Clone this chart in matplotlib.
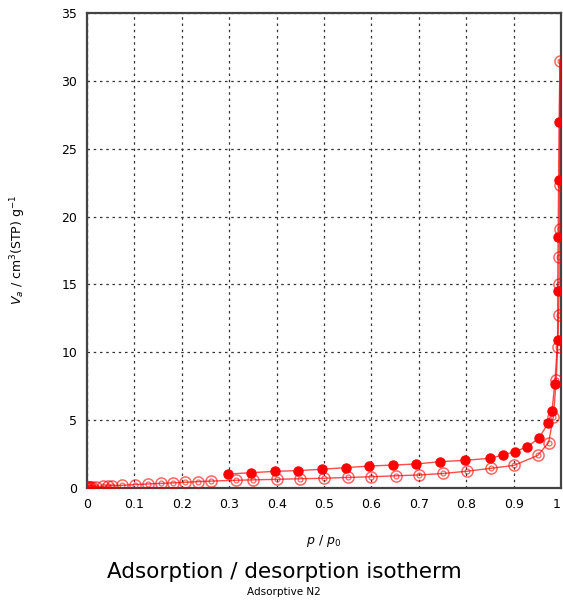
import matplotlib
matplotlib.use("Agg")
import matplotlib.pyplot as plt
import numpy as np

# adsorption branch (open double circles)
p_ads = [0.0002, 0.0008, 0.002, 0.004, 0.007, 0.010, 0.020, 0.034, 0.044, 0.052,
         0.073, 0.101, 0.129, 0.156, 0.181, 0.207, 0.235, 0.261, 0.314, 0.351,
         0.400, 0.449, 0.500, 0.551, 0.600, 0.651, 0.700, 0.752, 0.802, 0.852,
         0.901, 0.951, 0.974, 0.984, 0.990, 0.993, 0.995, 0.996, 0.996, 0.997,
         0.997, 0.998]
v_ads = [0.02, 0.03, 0.04, 0.05, 0.06, 0.07, 0.10, 0.13, 0.15, 0.17,
         0.20, 0.25, 0.30, 0.34, 0.38, 0.42, 0.47, 0.51, 0.57, 0.60,
         0.64, 0.68, 0.72, 0.78, 0.83, 0.90, 0.96, 1.07, 1.24, 1.45,
         1.67, 2.40, 3.35, 5.25, 7.95, 10.4, 12.75, 15.0, 17.0, 19.1,
         22.3, 31.5]

# desorption branch (filled circles)
p_des = [0.998, 0.996, 0.995, 0.994, 0.993, 0.993, 0.987, 0.981, 0.973, 0.953,
         0.929, 0.903, 0.877, 0.850, 0.797, 0.745, 0.694, 0.645, 0.596, 0.546,
         0.495, 0.445, 0.397, 0.347, 0.298]
v_des = [31.5, 27.0, 22.7, 18.5, 14.5, 10.9, 7.7, 5.65, 4.77, 3.66,
         3.04, 2.68, 2.43, 2.19, 2.04, 1.94, 1.77, 1.69, 1.62, 1.50,
         1.38, 1.28, 1.23, 1.13, 1.03]

xticks = [0, 0.1, 0.2, 0.3, 0.4, 0.5, 0.6, 0.7, 0.8, 0.9, 1]
xticklabels = ["0", "0.1", "0.2", "0.3", "0.4", "0.5", "0.6", "0.7", "0.8", "0.9", "1"]
yticks = [0, 5, 10, 15, 20, 25, 30, 35]

red = "#ff0000"

fig = plt.figure(figsize=(5.63, 6.03), dpi=100)
ax = fig.add_axes([0.1545, 0.1907, 0.8419, 0.7877])

# lines
ax.plot(p_ads, v_ads, color=red, lw=1.0, alpha=0.7, zorder=3)
ax.plot(p_des, v_des, color=red, lw=1.0, alpha=0.7, zorder=3)

# open double circle markers for adsorption
ax.plot(p_ads, v_ads, ls="none", marker="o", ms=8, mfc="none", mec=red,
        mew=1.1, alpha=0.6, zorder=4)
ax.plot(p_ads, v_ads, ls="none", marker="o", ms=3.5, mfc="none", mec=red,
        mew=0.9, alpha=0.6, zorder=4)

# filled markers for desorption (first point is the turning point)
ax.plot(p_des[1:], v_des[1:], ls="none", marker="o", ms=6.5, mfc=red, mec=red,
        zorder=5)

ax.set_xlim(0, 1)
ax.set_ylim(0, 35)
ax.set_xticks(xticks)
ax.set_xticklabels(xticklabels)
ax.get_xticklabels()[-1].set_horizontalalignment("right")
ax.set_yticks(yticks)
ax.tick_params(length=0, labelsize=9, pad=7)

ax.grid(True, color="#333333", ls=(0, (2, 3)), lw=0.9)
ax.set_axisbelow(True)
for s in ax.spines.values():
    s.set_color("#444444")
    s.set_linewidth(1.6)

ax.set_xlabel(r"$p\ /\ p_0$", fontsize=9, labelpad=16)
fig.text(0.033, 0.585, r"$V_a$ / cm$^3$(STP) g$^{-1}$", rotation=90,
         ha="center", va="center", fontsize=9)

fig.text(0.505, 0.052, "Adsorption / desorption isotherm", ha="center",
         va="center", fontsize=15.5)
fig.text(0.505, 0.018, "Adsorptive N2", ha="center", va="center", fontsize=7.5)

fig.savefig("out.png", dpi=100)
